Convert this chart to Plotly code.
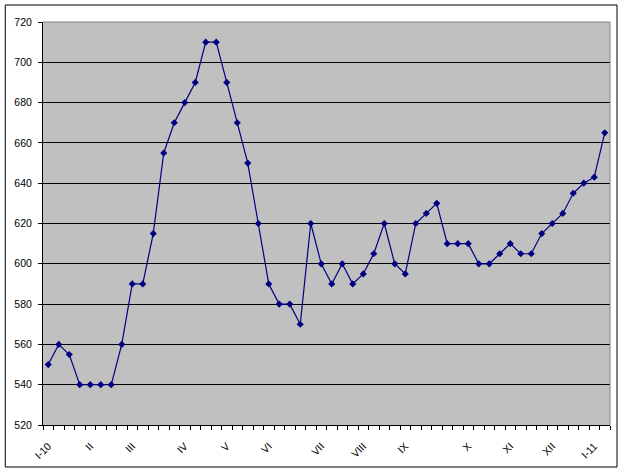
import plotly.graph_objects as go

values = [550, 560, 555, 540, 540, 540, 540, 560, 590, 590, 615, 655, 670, 680, 690, 710, 710,
          690, 670, 650, 620, 590, 580, 580, 570, 620, 600, 590, 600, 590, 595, 605, 620, 600,
          595, 620, 625, 630, 610, 610, 610, 600, 600, 605, 610, 605, 605, 615, 620, 625, 635,
          640, 643, 665]
month_labels = ["I-10", "II", "III", "IV", "V", "VI", "VII", "VIII", "IX", "X", "XI", "XII", "I-11"]
month_positions = [1, 5, 9, 14, 18, 22, 27, 31, 35, 41, 45, 49, 53]
y_ticks = [520, 540, 560, 580, 600, 620, 640, 660, 680, 700, 720]

n = len(values)
x = list(range(1, n + 1))

fig = go.Figure()
fig.add_trace(go.Scatter(
    x=x, y=values, mode="lines+markers",
    line=dict(color="#000080", width=1.2),
    marker=dict(symbol="diamond", size=5.5, color="#000080"),
    showlegend=False, cliponaxis=False,
))

font = dict(family="Arial, Liberation Sans, sans-serif", size=10.5, color="black")

fig.update_layout(
    width=625, height=474,
    margin=dict(l=42.7, r=15, t=22, b=49, pad=0),
    paper_bgcolor="white", plot_bgcolor="#C0C0C0",
    font=font,
    xaxis=dict(
        range=[0.5, n + 0.5], tickmode="array", tickvals=month_positions, ticktext=month_labels,
        tickangle=-45, ticks="outside", ticklen=4, tickcolor="rgba(0,0,0,0)",
        showgrid=False, zeroline=False, showline=True, linecolor="black", linewidth=1,
        minor=dict(tickmode="array", tickvals=[i + 0.5 for i in range(0, n + 1)],
                   ticks="outside", ticklen=4, tickcolor="black", showgrid=False),
        tickfont=font, ticklabelstandoff=6,
    ),
    yaxis=dict(
        range=[520, 720], tickmode="array", tickvals=y_ticks,
        ticks="outside", ticklen=4, tickcolor="black",
        showgrid=True, gridcolor="black", gridwidth=1, zeroline=False,
        showline=True, linecolor="black", linewidth=1, tickfont=font,
        ticklabelstandoff=4,
    ),
)

# plot area border (top, right) in gray
fig.add_shape(type="line", xref="paper", yref="paper", x0=0, x1=1, y0=1, y1=1,
              line=dict(color="#808080", width=1), layer="above")
fig.add_shape(type="line", xref="paper", yref="paper", x0=1, x1=1, y0=0, y1=1,
              line=dict(color="#808080", width=1), layer="above")
# chart area border
fig.add_shape(type="rect", xref="paper", yref="paper",
              x0=-0.0665, x1=1.0124, y0=-0.1042, y1=1.0422,
              line=dict(color="black", width=1), fillcolor="rgba(0,0,0,0)", layer="above")

fig.write_html("out.html", config={"displayModeBar": False},
               post_script="document.body.style.margin='0';")
